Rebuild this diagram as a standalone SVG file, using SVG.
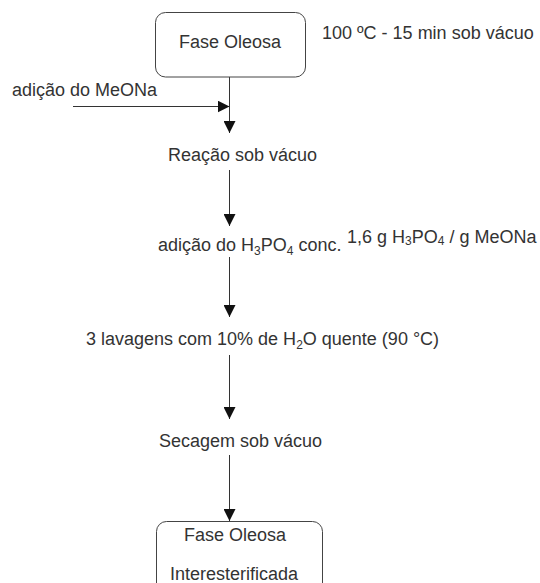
<svg xmlns="http://www.w3.org/2000/svg" width="540" height="583" viewBox="0 0 540 583">
<defs>
<style>
text{font-family:"Liberation Sans",Arial,sans-serif;font-size:18px;fill:#333}
.sub{font-size:12px}
.box{fill:#fff;stroke:#444;stroke-width:1}
.ln{stroke:#333;stroke-width:1;fill:none}
</style>
<marker id="ah" viewBox="0 0 12 12" refX="12" refY="6" markerWidth="12" markerHeight="12" markerUnits="userSpaceOnUse" orient="auto">
<path d="M0,0 L12,6 L0,12 z" fill="#111"/>
</marker>
</defs>
<rect width="540" height="583" fill="#fff"/>
<g id="connectors">
<line class="ln" x1="229.5" y1="77" x2="229.5" y2="133" marker-end="url(#ah)"/>
<line class="ln" x1="73" y1="106.5" x2="229.5" y2="106.5" marker-end="url(#ah)"/>
<line class="ln" x1="229.5" y1="170" x2="229.5" y2="226" marker-end="url(#ah)"/>
<line class="ln" x1="229.5" y1="257" x2="229.5" y2="317" marker-end="url(#ah)"/>
<line class="ln" x1="229.5" y1="355" x2="229.5" y2="419" marker-end="url(#ah)"/>
<line class="ln" x1="229.5" y1="455" x2="229.5" y2="521" marker-end="url(#ah)"/>
</g>
<g id="n1">
<rect class="box" x="155.5" y="12.5" width="150" height="64.5" rx="10"/>
<text x="230" y="48" text-anchor="middle">Fase Oleosa</text>
</g>
<g id="n1note"><text x="322" y="39">100 ºC - 15 min sob vácuo</text></g>
<g id="n2"><text x="12" y="96">adição do MeONa</text></g>
<g id="n3"><text x="168" y="161">Reação sob vácuo</text></g>
<g id="n4"><text x="158" y="251">adição do H<tspan class="sub" dy="4">3</tspan><tspan dy="-4">PO</tspan><tspan class="sub" dy="4">4</tspan><tspan dy="-4"> conc.</tspan></text></g>
<g id="n4note"><text x="347" y="243">1,6 g H<tspan class="sub" dy="2">3</tspan><tspan dy="-2">PO</tspan><tspan class="sub" dy="2">4</tspan><tspan dy="-2"> / g MeONa</tspan></text></g>
<g id="n5"><text x="86" y="345">3 lavagens com 10% de H<tspan class="sub" dy="4">2</tspan><tspan dy="-4">O quente (90 °C)</tspan></text></g>
<g id="n6"><text x="159" y="447">Secagem sob vácuo</text></g>
<g id="n7">
<rect class="box" x="156.5" y="521.5" width="166" height="80" rx="10"/>
<text x="235" y="541" text-anchor="middle">Fase Oleosa</text>
<text x="234" y="580" text-anchor="middle">Interesterificada</text>
</g>
</svg>
